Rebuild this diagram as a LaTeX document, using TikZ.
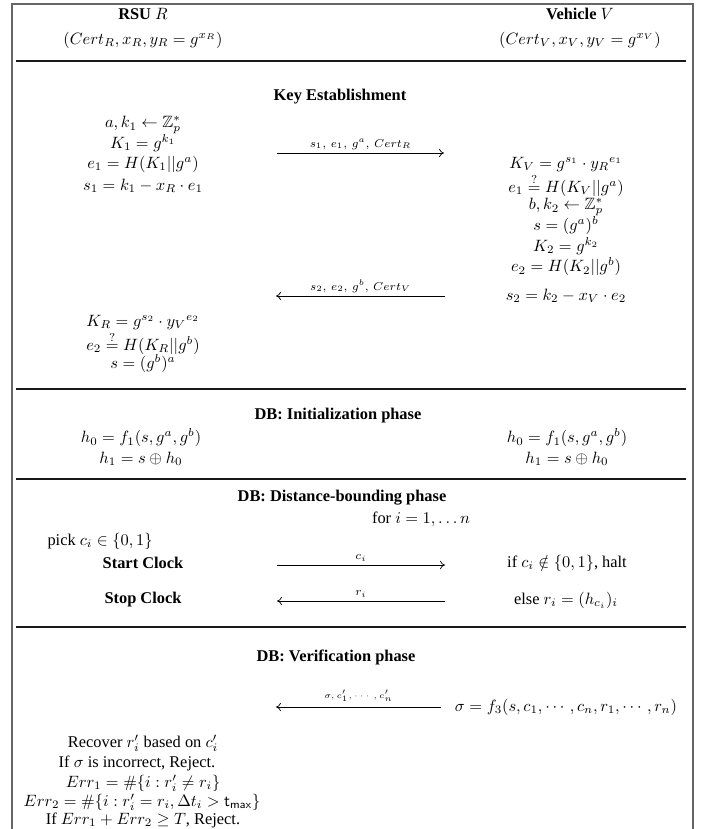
\documentclass[tikz,border=0pt]{standalone}
\usepackage[no-math]{fontspec}
\setmainfont{Liberation Serif}
\usepackage{amsmath,amssymb}
\usetikzlibrary{positioning, arrows.meta}

\begin{document}
\begin{tikzpicture}[
  x=0.61pt, y=-0.61pt,
  eq/.style={inner sep=1pt},
  phase/.style={font=\bfseries, inner sep=1pt},
  msg/.style={-{To[length=3pt,width=5pt]}, line width=0.45pt},
  msglbl/.style={font=\scriptsize, above, inner sep=2pt},
  frame/.style={draw=black!60, line width=1.2pt},
  sep/.style={draw=black!90, line width=0.9pt}
]

\useasboundingbox (0,0) rectangle (711,829);

% -------------------------
% Frame and phase separators
% -------------------------

\draw[frame] (12,850) -- (12,4) -- (693,4) -- (693,850);
\draw[sep] (16,61) -- (686,61);
\draw[sep] (16,389) -- (686,389);
\draw[sep] (16,479) -- (686,479);
\draw[sep] (16,627) -- (686,627);

% -------------------------
% Parties
% -------------------------

\node[eq] (rsu) at (143,14) {\textbf{RSU} $R$};
\node[eq, below=5pt of rsu] (rsucert) {$(Cert_R, x_R, y_R = g^{x_R})$};
\node[eq] (veh) at (580,14) {\textbf{Vehicle} $V$};
\node[eq, below=5pt of veh] (vehcert) {$(Cert_V, x_V, y_V = g^{x_V})$};

% -------------------------
% Key establishment
% -------------------------

\node[phase] (ke) at (340,97) {Key Establishment};

\node[eq] (r1) at (143,125) {$a, k_1 \leftarrow \mathbb{Z}_p^*$};
\node[eq] (r2) at (143,143) {$K_1 = g^{k_1}$};
\node[eq] (r3) at (143,164) {$e_1 = H(K_1||g^a)$};
\node[eq] (r4) at (143,186) {$s_1 = k_1 - x_R \cdot e_1$};

\node[eq] (v1) at (566,164) {$K_V = g^{s_1} \cdot {y_R}^{e_1}$};
\node[eq] (v2) at (566,185) {$e_1 \stackrel{?}{=} H(K_V||g^a)$};
\node[eq] (v3) at (566,207) {$b, k_2 \leftarrow \mathbb{Z}_p^*$};
\node[eq] (v4) at (566,226) {$s = (g^a)^b$};
\node[eq] (v5) at (566,246) {$K_2 = g^{k_2}$};
\node[eq] (v6) at (566,267) {$e_2 = H(K_2||g^b)$};
\node[eq] (v7) at (566,296) {$s_2 = k_2 - x_V \cdot e_2$};

\node[eq] (r5) at (143,322) {$K_R = g^{s_2} \cdot {y_V}^{e_2}$};
\node[eq] (r6) at (143,343) {$e_2 \stackrel{?}{=} H(K_R||g^b)$};
\node[eq] (r7) at (143,364) {$s = (g^b)^a$};

\coordinate (m1l) at (277,153);
\coordinate (m1r) at (444,153);
\draw[msg] (m1l) -- node[msglbl] {$s_1,\, e_1,\, g^a,\, Cert_R$} (m1r);

\coordinate (m2l) at (276,296);
\coordinate (m2r) at (445,296);
\draw[msg] (m2r) -- node[msglbl] {$s_2,\, e_2,\, g^b,\, Cert_V$} (m2l);

% -------------------------
% DB: initialization
% -------------------------

\node[phase] (ini) at (338,416) {DB: Initialization phase};

\node[eq] (rh0) at (141,438) {$h_0 = f_1(s, g^a, g^b)$};
\node[eq] (rh1) at (141,459) {$h_1 = s \oplus h_0$};
\node[eq] (vh0) at (567,438) {$h_0 = f_1(s, g^a, g^b)$};
\node[eq] (vh1) at (567,459) {$h_1 = s \oplus h_0$};

% -------------------------
% DB: distance bounding
% -------------------------

\node[phase] (dbp) at (342,498) {DB: Distance-bounding phase};
\node[eq] (loop) at (421,519) {for $i = 1, \ldots n$};

\node[eq] (pick) at (100,541) {pick $c_i \in \{0,1\}$};
\node[phase] (start) at (143,563) {Start Clock};
\node[phase] (stop) at (143,600) {Stop Clock};
\node[eq] (halt) at (567,563) {if $c_i \notin \{0,1\}$, halt};
\node[eq] (resp) at (566,600) {else $r_i = (h_{c_i})_i$};

\coordinate (m3l) at (277,565);
\coordinate (m3r) at (445,565);
\draw[msg] (m3l) -- node[msglbl] {$c_i$} (m3r);

\coordinate (m4l) at (277,601);
\coordinate (m4r) at (445,601);
\draw[msg] (m4r) -- node[msglbl] {$r_i$} (m4l);

% -------------------------
% DB: verification
% -------------------------

\node[phase] (ver) at (336,657) {DB: Verification phase};

\node[eq] (sig) at (566,707) {$\sigma = f_3(s, c_1, \cdots, c_n, r_1, \cdots, r_n)$};
\coordinate (m5l) at (276,707);
\coordinate (m5r) at (441,707);
\draw[msg] (m5r) -- node[msglbl, font=\tiny, inner sep=3pt] {$\sigma, c'_1, \cdots, c'_n$} (m5l);

\node[eq] (chk1) at (143,743) {Recover $r'_i$ based on $c'_i$};
\node[eq] (chk2) at (137,763) {If $\sigma$ is incorrect, Reject.};
\node[eq] (chk3) at (143,783) {$Err_1 = \#\{i : r'_i \neq r_i\}$};
\node[eq] (chk4) at (142,802) {$Err_2 = \#\{i : r'_i = r_i, \Delta t_i > \mathsf{t}_{\mathsf{max}}\}$};
\node[eq] (chk5) at (143,820) {If $Err_1 + Err_2 \geq T$, Reject.};

\end{tikzpicture}
\end{document}
